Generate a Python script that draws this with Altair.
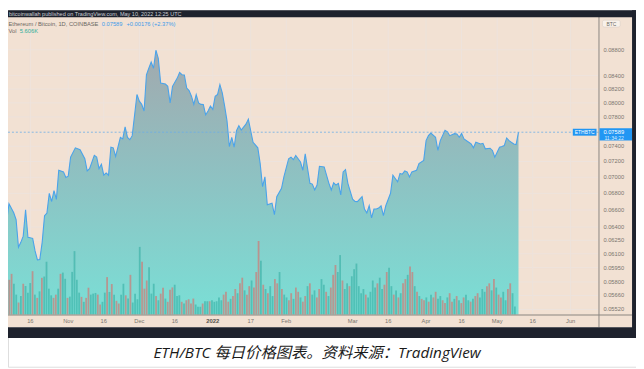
import altair as alt
import pandas as pd

# ---------------- data ----------------
price_dates = [
    "2021-10-05", "2021-10-06", "2021-10-07", "2021-10-09", "2021-10-10", "2021-10-11", "2021-10-12", "2021-10-13",
    "2021-10-14", "2021-10-15", "2021-10-17", "2021-10-18", "2021-10-19", "2021-10-20", "2021-10-21", "2021-10-22",
    "2021-10-23", "2021-10-24", "2021-10-25", "2021-10-26", "2021-10-27", "2021-10-28", "2021-10-30", "2021-10-31",
    "2021-11-01", "2021-11-02", "2021-11-04", "2021-11-06", "2021-11-08", "2021-11-09", "2021-11-10", "2021-11-12",
    "2021-11-13", "2021-11-14", "2021-11-15", "2021-11-16", "2021-11-17", "2021-11-18", "2021-11-19", "2021-11-20",
    "2021-11-21", "2021-11-23", "2021-11-24", "2021-11-25", "2021-11-26", "2021-11-27", "2021-11-28", "2021-11-30",
    "2021-12-01", "2021-12-02", "2021-12-03", "2021-12-04", "2021-12-05", "2021-12-06", "2021-12-07", "2021-12-08",
    "2021-12-09", "2021-12-10", "2021-12-12", "2021-12-13", "2021-12-14", "2021-12-15", "2021-12-17", "2021-12-18",
    "2021-12-19", "2021-12-20", "2021-12-21", "2021-12-22", "2021-12-23", "2021-12-24", "2021-12-25", "2021-12-26",
    "2021-12-27", "2021-12-28", "2021-12-29", "2021-12-30", "2021-12-31", "2022-01-01", "2022-01-02", "2022-01-03",
    "2022-01-04", "2022-01-05", "2022-01-06", "2022-01-07", "2022-01-08", "2022-01-09", "2022-01-10", "2022-01-11",
    "2022-01-12", "2022-01-13", "2022-01-15", "2022-01-16", "2022-01-17", "2022-01-18", "2022-01-20", "2022-01-21",
    "2022-01-22", "2022-01-23", "2022-01-24", "2022-01-26", "2022-01-27", "2022-01-28", "2022-01-30", "2022-01-31",
    "2022-02-02", "2022-02-03", "2022-02-04", "2022-02-05", "2022-02-07", "2022-02-08", "2022-02-09", "2022-02-11",
    "2022-02-12", "2022-02-13", "2022-02-14", "2022-02-15", "2022-02-17", "2022-02-19", "2022-02-20", "2022-02-21",
    "2022-02-22", "2022-02-23", "2022-02-24", "2022-02-25", "2022-02-26", "2022-02-27", "2022-03-01", "2022-03-02",
    "2022-03-03", "2022-03-05", "2022-03-06", "2022-03-07", "2022-03-08", "2022-03-09", "2022-03-10", "2022-03-11",
    "2022-03-12", "2022-03-13", "2022-03-14", "2022-03-15", "2022-03-17", "2022-03-18", "2022-03-19", "2022-03-20",
    "2022-03-21", "2022-03-22", "2022-03-23", "2022-03-24", "2022-03-25", "2022-03-26", "2022-03-28", "2022-03-29",
    "2022-03-31", "2022-04-01", "2022-04-02", "2022-04-03", "2022-04-05", "2022-04-06", "2022-04-07", "2022-04-09",
    "2022-04-10", "2022-04-11", "2022-04-13", "2022-04-14", "2022-04-15", "2022-04-16", "2022-04-17", "2022-04-19",
    "2022-04-20", "2022-04-21", "2022-04-22", "2022-04-24", "2022-04-25", "2022-04-26", "2022-04-28", "2022-04-29",
    "2022-04-30", "2022-05-02", "2022-05-03", "2022-05-04", "2022-05-05", "2022-05-06", "2022-05-08", "2022-05-09",
    "2022-05-10",
]
price_values = [
    0.06821, 0.06467, 0.06673, 0.06567, 0.06487, 0.06172, 0.06227, 0.06297,
    0.06603, 0.06283, 0.06272, 0.06132, 0.06035, 0.06038, 0.06227, 0.06533,
    0.06562, 0.06799, 0.06701, 0.06832, 0.06727, 0.07088, 0.07067, 0.06997,
    0.07013, 0.07257, 0.07379, 0.07353, 0.07236, 0.07079, 0.07109, 0.07279,
    0.07257, 0.07109, 0.07164, 0.07025, 0.07054, 0.07025, 0.07387, 0.07379,
    0.07266, 0.07519, 0.07498, 0.07663, 0.07519, 0.07488, 0.07542, 0.08120,
    0.08024, 0.07978, 0.07883, 0.08414, 0.08513, 0.08607, 0.08513, 0.08792,
    0.08665, 0.08289, 0.08275, 0.08241, 0.08000, 0.08241, 0.08363, 0.08448,
    0.08414, 0.08410, 0.08216, 0.08178, 0.08096, 0.07978, 0.08120, 0.08000,
    0.07978, 0.07975, 0.07828, 0.07883, 0.07954, 0.07907, 0.08096, 0.08120,
    0.08266, 0.08143, 0.07954, 0.07745, 0.07396, 0.07519, 0.07387, 0.07609,
    0.07677, 0.07618, 0.07700, 0.07768, 0.07609, 0.07453, 0.07379, 0.07173,
    0.06881, 0.07004, 0.06661, 0.06681, 0.06544, 0.06760, 0.06862, 0.07004,
    0.07236, 0.07257, 0.07224, 0.07279, 0.07193, 0.07088, 0.07301, 0.06923,
    0.06914, 0.06841, 0.06902, 0.07138, 0.07130, 0.06923, 0.06841, 0.06930,
    0.06902, 0.06923, 0.06780, 0.07067, 0.07097, 0.06923, 0.06729, 0.06701,
    0.06700, 0.06760, 0.06611, 0.06564, 0.06650, 0.06506, 0.06611, 0.06612,
    0.06622, 0.06650, 0.06533, 0.06650, 0.06801, 0.07025, 0.06984, 0.06942,
    0.07047, 0.07038, 0.07079, 0.07067, 0.07004, 0.07067, 0.07088, 0.07173,
    0.07215, 0.07475, 0.07542, 0.07578, 0.07519, 0.07344, 0.07475, 0.07616,
    0.07595, 0.07542, 0.07569, 0.07565, 0.07519, 0.07573, 0.07498, 0.07453,
    0.07431, 0.07379, 0.07453, 0.07431, 0.07439, 0.07366, 0.07374, 0.07344,
    0.07257, 0.07387, 0.07396, 0.07409, 0.07511, 0.07475, 0.07431, 0.07422,
    0.07589,
]

# daily volume (thousands of ETH), first day 2021-10-05
vol_values = [
    24.5, 28.7, 21.7, 14.0, 8.4, 13.1, 21.7, 20.1, 15.4, 22.2,
    30.6, 14.0, 11.7, 16.3, 25.9, 26.8, 37.3, 18.2, 13.5, 11.7,
    14.0, 18.2, 28.7, 29.6, 25.2, 11.7, 12.6, 30.1, 44.8, 24.5,
    15.4, 12.4, 8.9, 11.7, 18.9, 14.0, 14.7, 15.2, 14.0, 7.0,
    8.9, 15.4, 26.4, 15.9, 21.5, 14.0, 9.6, 7.7, 14.0, 21.7,
    13.5, 11.2, 28.0, 8.4, 14.7, 10.7, 47.8, 37.3, 18.2, 24.0,
    33.4, 14.7, 21.7, 13.1, 10.0, 14.7, 18.9, 11.2, 8.9, 17.5,
    19.1, 21.0, 13.1, 13.5, 8.9, 7.7, 10.0, 10.7, 7.7, 11.2,
    7.0, 5.4, 5.4, 7.7, 9.3, 9.3, 9.3, 10.0, 8.9, 9.3,
    12, 10, 14, 16, 9, 11, 13, 18, 15, 22,
    26, 17, 14, 20, 24, 19, 30, 52, 38, 21,
    18, 15, 20, 13, 25, 22, 30, 18, 14, 12,
    10, 15, 11, 19, 16, 12, 9, 13, 20, 22,
    14, 17, 12, 18, 25, 21, 16, 13, 19, 28,
    35, 30, 42, 24, 18, 22, 20, 27, 32, 36,
    20, 15, 18, 14, 12, 16, 24, 19, 22, 26,
    18, 21, 30, 33, 20, 14, 17, 12, 15, 22,
    25, 28, 34, 30, 20, 16, 13, 11, 10, 12,
    9, 14, 12, 16, 11, 13, 10, 8, 12, 15,
    9, 11, 13, 10, 8, 12, 14, 10, 9, 11,
    13, 15, 12, 18, 16, 20, 22, 17, 25, 19,
    14, 12, 16, 10, 18, 22, 15, 5.6,
]
vol_dirs = [
    "d", "d", "u", "u", "d", "u", "d", "u", "u", "u",
    "d", "u", "d", "u", "d", "u", "u", "u", "u", "d",
    "d", "u", "d", "u", "u", "d", "u", "u", "u", "u",
    "u", "d", "u", "d", "d", "u", "u", "u", "d", "d",
    "u", "u", "d", "u", "d", "u", "d", "d", "u", "u",
    "d", "u", "d", "u", "u", "u", "u", "d", "d", "d",
    "u", "u", "u", "d", "u", "d", "d", "u", "d", "d",
    "d", "u", "u", "u", "d", "u", "d", "d", "d", "d",
    "u", "u", "u", "d", "u", "u", "d", "u", "u", "u",
    "u", "u", "d", "d", "d", "u", "d", "d", "u", "d",
    "d", "u", "d", "d", "u", "d", "d", "d", "u", "d",
    "u", "d", "u", "u", "d", "d", "u", "d", "u", "u",
    "d", "d", "u", "d", "d", "u", "d", "d", "u", "d",
    "u", "u", "d", "d", "u", "u", "d", "u", "d", "d",
    "d", "u", "u", "d", "u", "u", "d", "u", "u", "u",
    "u", "u", "u", "d", "u", "u", "u", "u", "d", "u",
    "u", "d", "d", "u", "u", "d", "u", "d", "u", "d",
    "d", "u", "d", "d", "u", "d", "u", "d", "d", "u",
    "d", "u", "d", "d", "u", "u", "d", "d", "u", "d",
    "d", "u", "d", "u", "d", "d", "u", "u", "d", "u",
    "d", "d", "u", "u", "u", "d", "d", "u", "d", "u",
    "d", "d", "u", "u", "d", "d", "u", "u",
]

price_ticks = [0.0552, 0.0566, 0.058, 0.0595, 0.061, 0.0625, 0.064, 0.066, 0.068,
               0.070, 0.072, 0.074, 0.078, 0.080, 0.082, 0.084, 0.088]
price_tick_labels = ["0.05520", "0.05660", "0.05800", "0.05950", "0.06100", "0.06250",
                     "0.06400", "0.06600", "0.06800", "0.07000", "0.07200", "0.07400",
                     "0.07800", "0.08000", "0.08200", "0.08400", "0.08800"]

time_ticks = ["2021-10-16", "2021-11-01", "2021-11-16", "2021-12-01", "2021-12-16",
              "2022-01-01", "2022-01-17", "2022-02-01", "2022-03-01", "2022-03-16",
              "2022-04-01", "2022-04-16", "2022-05-01", "2022-05-16", "2022-06-01"]
time_tick_labels = ["16", "Nov", "16", "Dec", "16", "2022", "17", "Feb", "Mar", "16",
                    "Apr", "16", "May", "16", "Jun"]

last_price = 0.07589

# ---------------- styling ----------------
FONT = "Liberation Sans"
BG = "#f2e1d3"
GRID = "#ede3dc"
DARK = "#1e222d"
AXIS = "#8a8580"
LABEL = "#7a756f"
BLUE = "#2196f3"

xscale = alt.Scale(type="utc", nice=False,
                   domain=[alt.DateTime(year=2021, month=10, date=6, hours=14, utc=True),
                           alt.DateTime(year=2022, month=6, date=12, hours=18, utc=True)],
                   range=[0, 598])
yscale = alt.Scale(type="log", nice=False, domain=[0.0552, 0.088], range=[303, 40])
vscale = alt.Scale(type="linear", nice=False, zero=True, domain=[0, 100], range=[308, 165])

one = pd.DataFrame({"a": [0]})


def rect(x, x2, y, y2, color, **kw):
    return alt.Chart(one).mark_rect(color=color, **kw).encode(
        x=alt.value(x), x2=alt.value(x2), y=alt.value(y), y2=alt.value(y2))


def label(txt, x, y, size, color, **kw):
    return alt.Chart(one).mark_text(text=txt, fontSize=size, color=color, font=FONT,
                                    baseline="middle", **kw).encode(
        x=alt.value(x), y=alt.value(y))


pdf = pd.DataFrame({"date": price_dates, "price": price_values})
vdf = pd.DataFrame({
    "date": pd.date_range("2021-10-05", periods=len(vol_values)).strftime("%Y-%m-%d"),
    "vol": vol_values,
    "dir": (vol_dirs + ["u"] * len(vol_values))[:len(vol_values)],
})
ptdf = pd.DataFrame({"p": price_ticks, "lab": price_tick_labels})
ttdf = pd.DataFrame({"t": time_ticks, "lab": time_tick_labels})
cpdf = pd.DataFrame({"p": [last_price]})

X = alt.X("date:T", scale=xscale, axis=None)
Y = alt.Y("price:Q", scale=yscale, axis=None, stack=None)

background = rect(0, 632, 5, 321, BG)

hgrid = alt.Chart(ptdf).mark_rule(color=GRID, strokeWidth=1).encode(
    y=alt.Y("p:Q", scale=yscale, axis=None), x=alt.value(0), x2=alt.value(598))
vgrid = alt.Chart(ttdf).mark_rule(color=GRID, strokeWidth=1).encode(
    x=alt.X("t:T", scale=xscale, axis=None), y=alt.value(5), y2=alt.value(308))

area = alt.Chart(pdf).mark_area(
    color=alt.Gradient(gradient="linear",
                       stops=[alt.GradientStop(color="#a2a9ae", offset=0),
                              alt.GradientStop(color="#8fc0c1", offset=0.45),
                              alt.GradientStop(color="#7adfd6", offset=1)],
                       x1=1, x2=1, y1=0, y2=1)
).encode(x=X, y=Y, y2=alt.value(308))

bars = alt.Chart(vdf).mark_bar(size=1.8, opacity=0.5).encode(
    x=X,
    y=alt.Y("vol:Q", scale=vscale, axis=None, stack=None),
    color=alt.Color("dir:N", scale=alt.Scale(domain=["u", "d"], range=["#26a69a", "#ef5350"]),
                    legend=None))

line = alt.Chart(pdf).mark_line(color="#4aa3ea", strokeWidth=1.1).encode(x=X, y=Y)

dash = alt.Chart(cpdf).mark_rule(color="#6aaee8", strokeDash=[2, 2], strokeWidth=0.8).encode(
    y=alt.Y("p:Q", scale=yscale, axis=None), x=alt.value(0), x2=alt.value(598))

axis_v = rect(598, 599, 5, 321, AXIS)
axis_h = rect(0, 632, 308, 309, AXIS)

plabels = alt.Chart(ptdf).mark_text(align="left", baseline="middle", fontSize=5.8,
                                    color=LABEL, font=FONT).encode(
    y=alt.Y("p:Q", scale=yscale, axis=None), x=alt.value(603), text="lab:N")

tlabels = alt.Chart(ttdf).transform_filter("datum.lab != '2022'").mark_text(
    align="center", baseline="middle", fontSize=5.8, color=LABEL, font=FONT).encode(
    x=alt.X("t:T", scale=xscale, axis=None), y=alt.value(315), text="lab:N")
tlabels_bold = alt.Chart(ttdf).transform_filter("datum.lab == '2022'").mark_text(
    align="center", baseline="middle", fontSize=6, fontWeight="bold", color="#55504c",
    font=FONT).encode(
    x=alt.X("t:T", scale=xscale, axis=None), y=alt.value(315), text="lab:N")

PY = alt.Y("p:Q", scale=yscale, axis=None)
price_box = alt.Chart(cpdf).mark_rect(color=BLUE, yOffset=-4, y2Offset=8.5).encode(
    y=PY, y2=alt.Y2("p:Q"), x=alt.value(599), x2=alt.value(632))
price_txt1 = alt.Chart(cpdf).mark_text(text="0.07589", align="left", baseline="middle",
                                       fontSize=5.8, color="white", font=FONT).encode(
    y=PY, x=alt.value(603))
price_txt2 = alt.Chart(cpdf).mark_text(text="11:34:22", align="left", baseline="middle",
                                       fontSize=5.2, color="#d6ecff", font=FONT, dy=6).encode(
    y=PY, x=alt.value(604))
sym_box = alt.Chart(cpdf).mark_rect(color=BLUE, yOffset=-3.5, y2Offset=3.5).encode(
    y=PY, y2=alt.Y2("p:Q"), x=alt.value(572), x2=alt.value(596))
sym_txt = alt.Chart(cpdf).mark_text(text="ETHBTC", align="center", baseline="middle",
                                    fontSize=5, color="white", font=FONT).encode(
    y=PY, x=alt.value(584))

btc_box = rect(602, 620, 10, 17, "#f8f1ea", stroke="#d9cfc7", strokeWidth=0.6,
               cornerRadius=2)
btc_txt = label("BTC", 611, 13.5, 5, "#6c6863", align="center")

header = rect(0, 636, 0, 7, DARK)
right_border = rect(632, 636, 0, 332, DARK)
bottom_bar = rect(0, 636, 321, 332, DARK)
header_txt = label("bitcoinwallah published on TradingView.com, May 10, 2022 12:25 UTC",
                   1, 3.7, 5.6, "#c9ccd3", align="left")

leg1 = label("Ethereum / Bitcoin, 1D, COINBASE", 0.5, 13.7, 5.8, "#6b6762", align="left")
leg2 = label("0.07589", 95, 13.7, 5.8, "#3d9be9", align="left")
leg3 = label("+0.00176 (+2.37%)", 120, 13.7, 5.8, "#3d9be9", align="left")
leg4 = label("Vol", 0.5, 21.3, 5.8, "#6b6762", align="left")
leg5 = label("5.606K", 12, 21.3, 5.8, "#2fae9a", align="left")

caption = alt.Chart(one).mark_text(
    text="ETH/BTC 每日价格图表。资料来源：TradingView", fontSize=15.5, fontStyle="italic",
    font="Open Sans, Noto Sans CJK SC", color="#1a1a1a", align="center",
    baseline="middle").encode(x=alt.value(313), y=alt.value(347))

chart = alt.layer(
    background, hgrid, vgrid, area, bars, line, dash, axis_v, axis_h,
    plabels, tlabels, tlabels_bold, sym_box, sym_txt, price_box, price_txt1, price_txt2,
    btc_box, btc_txt, header, right_border, bottom_bar, header_txt,
    leg1, leg2, leg3, leg4, leg5, caption,
).resolve_scale(x="independent", y="independent", color="independent").properties(
    width=636, height=361,
    autosize=alt.AutoSizeParams(type="none"),
    padding=0,
).configure_view(strokeWidth=0).configure(background="white")

chart.save("out.html", embed_options={"renderer": "svg", "actions": False})
